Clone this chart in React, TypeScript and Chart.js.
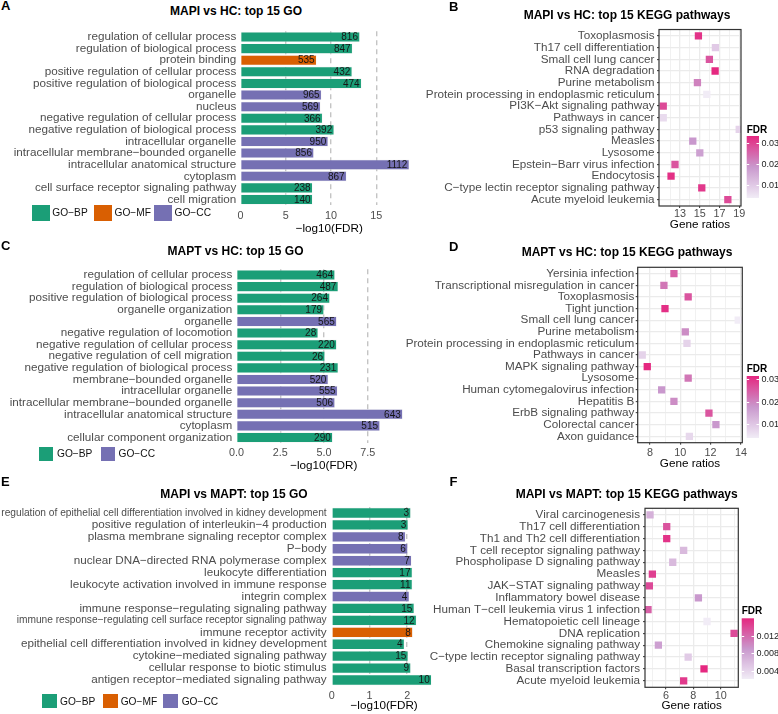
import React, { useEffect, useRef } from "react";
import { Chart, registerables } from "chart.js";
Chart.register(...registerables);

const FONT = '"Liberation Sans", Arial, Helvetica, sans-serif';
const AXIS_GREY = "#4D4D4D";
const GO_COLORS: Record<string, string> = { BP: "#1B9E77", MF: "#D95F02", CC: "#7570B3" };
const GO_NAMES: Record<string, string> = { BP: "GO−BP", MF: "GO−MF", CC: "GO−CC" };

// ---------------- Panel A: MAPI vs HC GO ----------------
const goA_terms = [
  "regulation of cellular process",
  "regulation of biological process",
  "protein binding",
  "positive regulation of cellular process",
  "positive regulation of biological process",
  "organelle",
  "nucleus",
  "negative regulation of cellular process",
  "negative regulation of biological process",
  "intracellular organelle",
  "intracellular membrane−bounded organelle",
  "intracellular anatomical structure",
  "cytoplasm",
  "cell surface receptor signaling pathway",
  "cell migration",
];
const goA_types = ["BP", "BP", "MF", "BP", "BP", "CC", "CC", "BP", "BP", "CC", "CC", "CC", "CC", "BP", "BP"];
const goA_negLog10FDR = [13.19, 12.38, 8.41, 12.34, 13.38, 8.96, 8.85, 9.07, 10.35, 9.69, 8.11, 18.65, 11.72, 7.97, 7.97];
const goA_counts = [816, 847, 535, 432, 474, 965, 569, 366, 392, 950, 856, 1112, 867, 238, 140];
const goA_legend = ["BP", "MF", "CC"];

// ---------------- Panel B: MAPI vs HC KEGG ----------------
const keggB_pathways = [
  "Toxoplasmosis",
  "Th17 cell differentiation",
  "Small cell lung cancer",
  "RNA degradation",
  "Purine metabolism",
  "Protein processing in endoplasmic reticulum",
  "PI3K−Akt signaling pathway",
  "Pathways in cancer",
  "p53 signaling pathway",
  "Measles",
  "Lysosome",
  "Epstein−Barr virus infection",
  "Endocytosis",
  "C−type lectin receptor signaling pathway",
  "Acute myeloid leukemia",
];
const keggB_ratios = [14.86, 16.58, 15.97, 16.55, 14.76, 15.71, 11.3, 11.3, 18.99, 14.29, 15.0, 12.49, 12.09, 15.2, 17.84];
const keggB_fdr = [0.0317, 0.0097, 0.0273, 0.0332, 0.0214, 0.0038, 0.0288, 0.0067, 0.0082, 0.0185, 0.017, 0.0273, 0.0323, 0.0311, 0.0288];
const keggB_majorTicks = [13, 15, 17, 19];
const keggB_fdrTicks = [0.03, 0.02, 0.01];
const keggB_fdrTickLabels = ["0.03", "0.02", "0.01"];

// ---------------- Panel C: MAPT vs HC GO ----------------
const goC_terms = [
  "regulation of cellular process",
  "regulation of biological process",
  "positive regulation of biological process",
  "organelle organization",
  "organelle",
  "negative regulation of locomotion",
  "negative regulation of cellular process",
  "negative regulation of cell migration",
  "negative regulation of biological process",
  "membrane−bounded organelle",
  "intracellular organelle",
  "intracellular membrane−bounded organelle",
  "intracellular anatomical structure",
  "cytoplasm",
  "cellular component organization",
];
const goC_types = ["BP", "BP", "BP", "BP", "CC", "BP", "BP", "BP", "BP", "CC", "CC", "CC", "CC", "CC", "BP"];
const goC_negLog10FDR = [5.63, 5.82, 5.34, 5.0, 5.73, 4.67, 5.73, 5.06, 5.82, 5.25, 5.78, 5.63, 9.5, 8.2, 5.5];
const goC_counts = [464, 487, 264, 179, 565, 28, 220, 26, 231, 520, 555, 506, 643, 515, 290];
const goC_legend = ["BP", "CC"];

// ---------------- Panel D: MAPT vs HC KEGG ----------------
const keggD_pathways = [
  "Yersinia infection",
  "Transcriptional misregulation in cancer",
  "Toxoplasmosis",
  "Tight junction",
  "Small cell lung cancer",
  "Purine metabolism",
  "Protein processing in endoplasmic reticulum",
  "Pathways in cancer",
  "MAPK signaling pathway",
  "Lysosome",
  "Human cytomegalovirus infection",
  "Hepatitis B",
  "ErbB signaling pathway",
  "Colorectal cancer",
  "Axon guidance",
];
const keggD_ratios = [9.58, 8.92, 10.52, 8.99, 13.82, 10.33, 10.44, 7.49, 7.82, 10.52, 8.77, 9.58, 11.89, 12.35, 10.6];
const keggD_fdr = [0.0245, 0.0217, 0.0258, 0.0305, 0.004, 0.019, 0.0081, 0.0081, 0.0313, 0.0217, 0.0177, 0.019, 0.0258, 0.0177, 0.0073];
const keggD_majorTicks = [8, 10, 12, 14];
const keggD_fdrTicks = [0.03, 0.02, 0.01];
const keggD_fdrTickLabels = ["0.03", "0.02", "0.01"];

// ---------------- Panel E: MAPI vs MAPT GO ----------------
const goE_terms = [
  "regulation of epithelial cell differentiation involved in kidney development",
  "positive regulation of interleukin−4 production",
  "plasma membrane signaling receptor complex",
  "P−body",
  "nuclear DNA−directed RNA polymerase complex",
  "leukocyte differentiation",
  "leukocyte activation involved in immune response",
  "integrin complex",
  "immune response−regulating signaling pathway",
  "immune response−regulating cell surface receptor signaling pathway",
  "immune receptor activity",
  "epithelial cell differentiation involved in kidney development",
  "cytokine−mediated signaling pathway",
  "cellular response to biotic stimulus",
  "antigen receptor−mediated signaling pathway",
];
const goE_types = ["BP", "BP", "CC", "CC", "CC", "BP", "BP", "CC", "BP", "BP", "MF", "BP", "BP", "BP", "BP"];
const goE_negLog10FDR = [2.1, 2.03, 1.96, 2.02, 2.12, 2.14, 2.14, 2.06, 2.19, 2.25, 2.15, 1.93, 2.03, 2.1, 2.65];
const goE_counts = [3, 3, 8, 6, 7, 17, 11, 4, 15, 12, 8, 4, 15, 9, 10];
const goE_legend = ["BP", "MF", "CC"];

// ---------------- Panel F: MAPI vs MAPT KEGG ----------------
const keggF_pathways = [
  "Viral carcinogenesis",
  "Th17 cell differentiation",
  "Th1 and Th2 cell differentiation",
  "T cell receptor signaling pathway",
  "Phospholipase D signaling pathway",
  "Measles",
  "JAK−STAT signaling pathway",
  "Inflammatory bowel disease",
  "Human T−cell leukemia virus 1 infection",
  "Hematopoietic cell lineage",
  "DNA replication",
  "Chemokine signaling pathway",
  "C−type lectin receptor signaling pathway",
  "Basal transcription factors",
  "Acute myeloid leukemia",
];
const keggF_ratios = [4.83, 6.05, 6.05, 7.29, 6.49, 5.0, 4.78, 8.37, 4.68, 9.0, 10.98, 5.44, 7.62, 8.78, 7.29];
const keggF_fdr = [0.007, 0.0132, 0.0152, 0.0063, 0.0063, 0.0145, 0.0138, 0.009, 0.0125, 0.0022, 0.0138, 0.0084, 0.0049, 0.0159, 0.0148];
const keggF_majorTicks = [6, 8, 10];
const keggF_fdrTicks = [0.012, 0.008, 0.004];
const keggF_fdrTickLabels = ["0.012", "0.008", "0.004"];

// ---------------- colour ramp ----------------
const RAMP: number[][] = [
  [241, 236, 246],
  [201, 152, 205],
  [229, 40, 128],
];
function rampColor(t: number): string {
  const u = Math.max(0, Math.min(1, t));
  const seg = u < 0.5 ? 0 : 1;
  const f = (u - seg * 0.5) / 0.5;
  const a = RAMP[seg], b = RAMP[seg + 1];
  const c = a.map((v, i) => Math.round(v + (b[i] - v) * f));
  return `rgb(${c[0]},${c[1]},${c[2]})`;
}

// ---------------- layout ----------------
type Box = { l: number; t: number; w: number; h: number };
type Area = { l: number; r: number; t: number; b: number };

const LABEL_SIZE = 11.7;
const TICK_SIZE = 10.8;
const TITLE_SIZE = 11.7;
const LEGEND_SIZE = 10.2;

// ---------------- plugins ----------------
function makeBarValuePlugin(counts: number[]) {
  return {
    id: "barValues",
    afterDatasetsDraw(chart: any) {
      const ctx = chart.ctx;
      const meta = chart.getDatasetMeta(0);
      ctx.save();
      ctx.font = `10px ${FONT}`;
      ctx.fillStyle = "#161616";
      ctx.textAlign = "right";
      ctx.textBaseline = "middle";
      meta.data.forEach((el: any, i: number) => ctx.fillText(String(counts[i]), el.x - 2, el.y + 0.5));
      ctx.restore();
    },
  };
}

const framePlugin = {
  id: "panelFrame",
  afterDatasetsDraw(chart: any) {
    const a = chart.chartArea;
    const ctx = chart.ctx;
    ctx.save();
    ctx.strokeStyle = "#333333";
    ctx.lineWidth = 1.2;
    ctx.strokeRect(a.left, a.top, a.right - a.left, a.bottom - a.top);
    ctx.restore();
  },
};

type CB = { x: number; y: number; w: number; h: number; titleY: number; lo: number; hi: number; ticks: number[]; labels: string[] };
function makeColorbarPlugin(cb: CB, canvas: Box) {
  return {
    id: "colorbar",
    afterDraw(chart: any) {
      const ctx = chart.ctx;
      const x = cb.x - canvas.l;
      const y = cb.y - canvas.t;
      ctx.save();
      const grad = ctx.createLinearGradient(0, y + cb.h, 0, y);
      for (let k = 0; k <= 20; k++) grad.addColorStop(k / 20, rampColor(k / 20));
      ctx.fillStyle = grad;
      ctx.fillRect(x, y, cb.w, cb.h);
      ctx.strokeStyle = "#FFFFFF";
      ctx.lineWidth = 1;
      ctx.font = `9px ${FONT}`;
      ctx.fillStyle = "#222222";
      ctx.textAlign = "left";
      ctx.textBaseline = "middle";
      cb.ticks.forEach((v, i) => {
        const py = Math.round(y + cb.h - ((v - cb.lo) / (cb.hi - cb.lo)) * cb.h) + 0.5;
        ctx.beginPath();
        ctx.moveTo(x, py);
        ctx.lineTo(x + 2.5, py);
        ctx.moveTo(x + cb.w - 2.5, py);
        ctx.lineTo(x + cb.w, py);
        ctx.stroke();
        ctx.fillText(cb.labels[i], x + cb.w + 2.5, py);
      });
      ctx.font = `bold 10px ${FONT}`;
      ctx.fillStyle = "#000000";
      ctx.fillText("FDR", x, cb.titleY - canvas.t);
      ctx.restore();
    },
  };
}

// ---------------- config builders ----------------
type BarSpec = {
  terms: string[];
  types: string[];
  values: number[];
  counts: number[];
  xMax: number;
  step: number;
  fmt: (v: number) => string;
  canvas: Box;
  area: Area;
  labelEnd: number;
  tickY: number;
  titleY: number;
  labelSizes?: Record<number, number>;
};

function barConfig(p: BarSpec): any {
  const { canvas } = p;
  const aL = p.area.l - canvas.l;
  const aR = p.area.r - canvas.l;
  const aT = p.area.t - canvas.t;
  const aB = p.area.b - canvas.t;
  const tickPad = p.tickY - canvas.t - aB - TICK_SIZE / 2;
  const titlePad = canvas.h - (p.titleY - canvas.t) - TITLE_SIZE / 2;
  return {
    type: "bar",
    data: {
      labels: p.terms,
      datasets: [
        {
          data: p.values,
          backgroundColor: p.types.map((t) => GO_COLORS[t]),
          borderColor: "rgba(235,235,235,0.6)",
          borderWidth: 0.7,
          barPercentage: 0.9,
          categoryPercentage: 1,
        },
      ],
    },
    options: {
      indexAxis: "y",
      responsive: false,
      animation: false,
      layout: { padding: { left: 0, top: aT, right: canvas.w - aR, bottom: 0 } },
      plugins: { legend: { display: false }, tooltip: { enabled: false } },
      scales: {
        y: {
          type: "category",
          afterFit: (s: any) => {
            s.width = aL;
          },
          grid: { display: false, drawTicks: false },
          border: { display: false },
          ticks: {
            autoSkip: false,
            padding: aL - (p.labelEnd - canvas.l),
            color: AXIS_GREY,
            font: (ctx: any) => ({
              family: FONT,
              size: (p.labelSizes && p.labelSizes[ctx.index]) || LABEL_SIZE,
            }),
          },
        },
        x: {
          type: "linear",
          min: 0,
          max: p.xMax,
          afterFit: (s: any) => {
            s.height = canvas.h - aB;
          },
          ticks: {
            stepSize: p.step,
            includeBounds: false,
            padding: tickPad,
            color: AXIS_GREY,
            font: { family: FONT, size: TICK_SIZE, lineHeight: 1 },
            callback: (v: any) => p.fmt(Number(v)),
          },
          grid: {
            color: (ctx: any) => (ctx.tick && ctx.tick.value === 0 ? "rgba(0,0,0,0)" : "#C4C4C4"),
            lineWidth: 1.4,
            drawTicks: false,
          },
          border: { display: false, dash: [5, 4] },
          title: {
            display: true,
            text: "−log10(FDR)",
            color: "#000000",
            font: { family: FONT, size: TITLE_SIZE, lineHeight: 1 },
            padding: { top: 0, bottom: titlePad },
          },
        },
      },
    },
    plugins: [makeBarValuePlugin(p.counts)],
  };
}

type DotSpec = {
  terms: string[];
  ratios: number[];
  fdr: number[];
  xMin: number;
  xMax: number;
  majors: number[];
  canvas: Box;
  area: Area;
  labelEnd: number;
  tickY: number;
  titleY: number;
  cb: { x: number; y: number; w: number; h: number; titleY: number; ticks: number[]; labels: string[] };
};

function dotConfig(p: DotSpec): any {
  const { canvas } = p;
  const aL = p.area.l - canvas.l;
  const aR = p.area.r - canvas.l;
  const aT = p.area.t - canvas.t;
  const aB = p.area.b - canvas.t;
  const TL = 2;
  const tickPad = p.tickY - canvas.t - aB - TL - TICK_SIZE / 2;
  const titlePad = canvas.h - (p.titleY - canvas.t) - TITLE_SIZE / 2;
  const lo = Math.min(...p.fdr);
  const hi = Math.max(...p.fdr);
  const n = p.terms.length;
  const gridVals: number[] = [];
  for (let v = Math.ceil(p.xMin + 0.3); v <= Math.floor(p.xMax); v++) gridVals.push(v);
  const isMajor = (v: any) => p.majors.indexOf(Number(v)) >= 0;
  return {
    type: "scatter",
    data: {
      datasets: [
        {
          data: p.ratios.map((r, i) => ({ x: r, y: i })),
          pointStyle: "rect",
          pointRadius: 5.15,
          pointBorderWidth: 0,
          pointBackgroundColor: p.fdr.map((f) => rampColor((f - lo) / (hi - lo))),
        },
      ],
    },
    options: {
      responsive: false,
      animation: false,
      layout: { padding: { left: 0, top: aT, right: canvas.w - aR, bottom: 0 } },
      plugins: { legend: { display: false }, tooltip: { enabled: false } },
      scales: {
        x: {
          type: "linear",
          min: p.xMin,
          max: p.xMax,
          afterBuildTicks: (s: any) => {
            s.ticks = gridVals.map((v) => ({ value: v }));
          },
          afterFit: (s: any) => {
            s.height = canvas.h - aB;
          },
          ticks: {
            autoSkip: false,
            maxRotation: 0,
            padding: tickPad,
            color: AXIS_GREY,
            font: { family: FONT, size: TICK_SIZE, lineHeight: 1 },
            callback: (v: any) => (isMajor(v) ? String(v) : ""),
          },
          grid: {
            color: "#EBEBEB",
            lineWidth: (ctx: any) => (ctx.tick && isMajor(ctx.tick.value) ? 1.3 : 0.7),
            tickColor: (ctx: any) => (ctx.tick && isMajor(ctx.tick.value) ? "#333333" : "rgba(0,0,0,0)"),
            tickLength: TL,
            tickWidth: 1,
          },
          border: { display: false },
          title: {
            display: true,
            text: "Gene ratios",
            color: "#000000",
            font: { family: FONT, size: TITLE_SIZE, lineHeight: 1 },
            padding: { top: 0, bottom: titlePad },
          },
        },
        y: {
          type: "linear",
          reverse: true,
          min: -0.55,
          max: n - 1 + 0.55,
          afterBuildTicks: (s: any) => {
            s.ticks = p.terms.map((_, i) => ({ value: i }));
          },
          afterFit: (s: any) => {
            s.width = aL;
          },
          ticks: {
            autoSkip: false,
            padding: aL - TL - (p.labelEnd - canvas.l),
            color: AXIS_GREY,
            font: { family: FONT, size: LABEL_SIZE },
            callback: (v: any) => p.terms[Number(v)] ?? "",
          },
          grid: { color: "#EBEBEB", lineWidth: 1.3, tickColor: "#333333", tickLength: TL, tickWidth: 1 },
          border: { display: false },
        },
      },
    },
    plugins: [framePlugin, makeColorbarPlugin({ ...p.cb, lo, hi }, canvas)],
  };
}

// ---------------- geometry ----------------
const CANVAS_A: Box = { l: 0, t: 20, w: 425, h: 218 };
const CANVAS_B: Box = { l: 400, t: 20, w: 378, h: 218 };
const CANVAS_C: Box = { l: 0, t: 258, w: 425, h: 218 };
const CANVAS_D: Box = { l: 400, t: 258, w: 378, h: 218 };
const CANVAS_E: Box = { l: 0, t: 495, w: 445, h: 219 };
const CANVAS_F: Box = { l: 400, t: 495, w: 378, h: 219 };

const specA: BarSpec = {
  terms: goA_terms, types: goA_types, values: goA_negLog10FDR, counts: goA_counts,
  xMax: 19.6, step: 5, fmt: (v) => String(v),
  canvas: CANVAS_A, area: { l: 240.5, r: 418, t: 25.8, b: 205.3 },
  labelEnd: 236.3, tickY: 216.2, titleY: 228.3,
};
const specC: BarSpec = {
  terms: goC_terms, types: goC_types, values: goC_negLog10FDR, counts: goC_counts,
  xMax: 9.97, step: 2.5, fmt: (v) => v.toFixed(1),
  canvas: CANVAS_C, area: { l: 236.5, r: 411, t: 264.8, b: 443.3 },
  labelEnd: 232.3, tickY: 453, titleY: 465.7,
};
const specE: BarSpec = {
  terms: goE_terms, types: goE_types, values: goE_negLog10FDR, counts: goE_counts,
  xMax: 2.78, step: 1, fmt: (v) => String(v),
  canvas: CANVAS_E, area: { l: 331.7, r: 436.6, t: 506.3, b: 686 },
  labelEnd: 326.7, tickY: 695.7, titleY: 705.8,
  labelSizes: { 0: 10.2, 9: 10.2 },
};
const specB: DotSpec = {
  terms: keggB_pathways, ratios: keggB_ratios, fdr: keggB_fdr,
  xMin: 10.87, xMax: 19.17, majors: keggB_majorTicks,
  canvas: CANVAS_B, area: { l: 659, r: 741, t: 28, b: 206 },
  labelEnd: 654.5, tickY: 213.7, titleY: 225.2,
  cb: { x: 746.7, y: 136, w: 12.3, h: 62, titleY: 130, ticks: keggB_fdrTicks, labels: keggB_fdrTickLabels },
};
const specD: DotSpec = {
  terms: keggD_pathways, ratios: keggD_ratios, fdr: keggD_fdr,
  xMin: 7.19, xMax: 14.09, majors: keggD_majorTicks,
  canvas: CANVAS_D, area: { l: 637.7, r: 742.3, t: 267.3, b: 442.7 },
  labelEnd: 634.3, tickY: 453, titleY: 464,
  cb: { x: 746.7, y: 376, w: 12.3, h: 62, titleY: 369.7, ticks: keggD_fdrTicks, labels: keggD_fdrTickLabels },
};
const specF: DotSpec = {
  terms: keggF_pathways, ratios: keggF_ratios, fdr: keggF_fdr,
  xMin: 4.46, xMax: 11.29, majors: keggF_majorTicks,
  canvas: CANVAS_F, area: { l: 645, r: 738.3, t: 508.3, b: 687.3 },
  labelEnd: 640, tickY: 695.7, titleY: 705.5,
  cb: { x: 741.7, y: 618.3, w: 12.3, h: 60.7, titleY: 611.5, ticks: keggF_fdrTicks, labels: keggF_fdrTickLabels },
};

type LegendSpec = { keys: string[]; squares: number[][]; textX: number[]; textY: number };
const legendA: LegendSpec = {
  keys: goA_legend,
  squares: [[31.7, 205, 18, 16], [94, 205, 18, 16], [154, 205, 18, 16]],
  textX: [52.3, 114.5, 174.5], textY: 213.3,
};
const legendC: LegendSpec = {
  keys: goC_legend,
  squares: [[39.3, 446.7, 14, 14], [100.7, 446.7, 14.3, 14]],
  textX: [57, 118.5], textY: 453.7,
};
const legendE: LegendSpec = {
  keys: goE_legend,
  squares: [[41.7, 694.3, 15, 14], [102.7, 694.3, 15, 14], [163.3, 694.3, 15, 14]],
  textX: [60, 120.7, 181.7], textY: 701.5,
};

const TITLES = [
  { text: "MAPI vs HC: top 15 GO", x: 236, y: 10.6 },
  { text: "MAPI vs HC: top 15 KEGG pathways", x: 627, y: 14.5 },
  { text: "MAPT vs HC: top 15 GO", x: 235.5, y: 250.5 },
  { text: "MAPT vs HC: top 15 KEGG pathways", x: 627, y: 251.5 },
  { text: "MAPI vs MAPT: top 15 GO", x: 234, y: 493.5 },
  { text: "MAPI vs MAPT: top 15 KEGG pathways", x: 626.7, y: 493.5 },
];
const LETTERS = [
  { text: "A", x: 1, y: 4.8 },
  { text: "B", x: 449, y: 5.6 },
  { text: "C", x: 1, y: 244.5 },
  { text: "D", x: 449, y: 245.5 },
  { text: "E", x: 1, y: 480.5 },
  { text: "F", x: 449.5, y: 481.2 },
];

// ---------------- components ----------------
function ChartCanvas({ box, make }: { box: Box; make: () => any }) {
  const ref = useRef<HTMLCanvasElement>(null);
  useEffect(() => {
    const chart = new Chart(ref.current as HTMLCanvasElement, make());
    return () => chart.destroy();
  }, []);
  return (
    <canvas
      ref={ref}
      width={box.w}
      height={box.h}
      style={{ position: "absolute", left: box.l, top: box.t, width: box.w, height: box.h }}
    />
  );
}

function Legend({ spec }: { spec: LegendSpec }) {
  return (
    <>
      {spec.keys.map((k, i) => (
        <React.Fragment key={k}>
          <div
            style={{
              position: "absolute",
              left: spec.squares[i][0],
              top: spec.squares[i][1],
              width: spec.squares[i][2],
              height: spec.squares[i][3],
              background: GO_COLORS[k],
            }}
          />
          <div
            style={{
              position: "absolute",
              left: spec.textX[i],
              top: spec.textY,
              transform: "translateY(-50%)",
              fontSize: LEGEND_SIZE,
              lineHeight: 1,
              color: "#111",
              whiteSpace: "nowrap",
            }}
          >
            {GO_NAMES[k]}
          </div>
        </React.Fragment>
      ))}
    </>
  );
}

export default function App() {
  return (
    <div
      style={{
        position: "absolute",
        left: 0,
        top: 0,
        width: 778,
        height: 714,
        background: "#FFFFFF",
        overflow: "hidden",
        fontFamily: FONT,
      }}
    >
      <ChartCanvas box={CANVAS_A} make={() => barConfig(specA)} />
      <ChartCanvas box={CANVAS_C} make={() => barConfig(specC)} />
      <ChartCanvas box={CANVAS_E} make={() => barConfig(specE)} />
      <ChartCanvas box={CANVAS_B} make={() => dotConfig(specB)} />
      <ChartCanvas box={CANVAS_D} make={() => dotConfig(specD)} />
      <ChartCanvas box={CANVAS_F} make={() => dotConfig(specF)} />
      <Legend spec={legendA} />
      <Legend spec={legendC} />
      <Legend spec={legendE} />
      {TITLES.map((t) => (
        <div
          key={t.text}
          style={{
            position: "absolute",
            left: t.x,
            top: t.y,
            transform: "translate(-50%, -50%)",
            fontSize: 12,
            fontWeight: "bold",
            lineHeight: 1,
            whiteSpace: "nowrap",
            color: "#000",
          }}
        >
          {t.text}
        </div>
      ))}
      {LETTERS.map((t) => (
        <div
          key={t.text}
          style={{
            position: "absolute",
            left: t.x,
            top: t.y,
            transform: "translateY(-50%)",
            fontSize: 13,
            fontWeight: "bold",
            lineHeight: 1,
            color: "#000",
          }}
        >
          {t.text}
        </div>
      ))}
    </div>
  );
}
